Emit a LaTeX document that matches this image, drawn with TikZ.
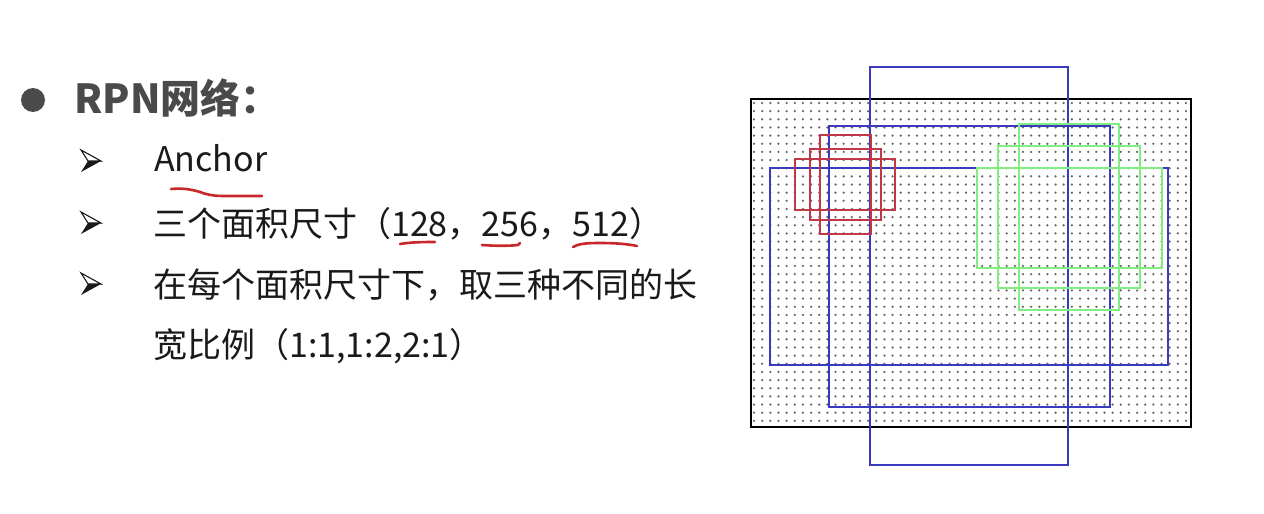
\documentclass[tikz,border=0pt]{standalone}
\usepackage{fontspec}
\setmainfont{Noto Sans CJK SC}
\definecolor{txt}{HTML}{1A1A1A}
\definecolor{ttl}{HTML}{4A4A4A}
\definecolor{bx}{HTML}{3A3AC0}
\definecolor{rx}{HTML}{C03848}
\definecolor{gx}{HTML}{80EE80}
\definecolor{pen}{HTML}{C8282C}
\definecolor{dotc}{HTML}{666666}
\tikzset{
  item/.style={anchor=base west, inner sep=0pt, text=txt, font=\fontsize{34}{34}\selectfont},
  bluebox/.style={draw=bx, line width=1.6pt},
  redbox/.style={draw=rx, line width=1.6pt},
  greenbox/.style={draw=gx, line width=1.6pt},
  penline/.style={draw=pen, line width=2.6pt, line cap=round, line join=round},
  pics/arrowbullet/.style={code={
    \draw[txt, line width=1.1pt, line join=miter, fill=white] (-10,-11) -- (10,0) -- (-3,0) -- cycle;
    \fill[txt] (-10,11) -- (10,0) -- (-3,0) -- cycle;
  }},
}
\begin{document}
\begin{tikzpicture}[x=1pt,y=-1pt]
\useasboundingbox[fill=white] (0,0) rectangle (1264,514);
% title
\fill[ttl] (33,100) circle (12);
\node[anchor=base west, inner sep=0pt, text=ttl, font=\bfseries\fontsize{40}{40}\selectfont] (title) at (74,113) {RPN网络：};
% items
\pic (b1) at (91,161) {arrowbullet};
\pic (b2) at (91,223) {arrowbullet};
\pic (b3) at (91,284) {arrowbullet};
\node[item] (t1) at (154,171) {Anchor};
\node[item] (t2) at (153,236) {三个面积尺寸（128，256，512）};
\node[item] (t3) at (153,297) {在每个面积尺寸下，取三种不同的长};
\node[item] (t4) at (153,357) {宽比例（1:1,1:2,2:1）};
% red pen marks
\draw[penline] (171,189) .. controls (182,188) and (190,189) .. (200,192) .. controls (208,195) and (214,196) .. (225,196) -- (262,196);
\draw[penline] (400,244) .. controls (412,242) and (425,242) .. (435,242);
\draw[penline] (482,245) .. controls (495,246) and (510,246) .. (518,245) -- (520,243);
\draw[penline] (573,247) .. controls (578,244) and (585,243) .. (600,243) .. controls (615,243) and (628,244) .. (637,246);
% dot grid
\foreach \i in {0,...,53}{
  \foreach \j in {0,...,39}{
    \fill[dotc] (754+\i*8.15,103+\j*8.15) circle (1.25);
  }
}
% feature map border
\draw[black, line width=2.2pt] (751,99) rectangle (1191,427);
% blue anchors
\draw[bluebox] (870,67) rectangle (1068,465);
\draw[bluebox] (829,126) rectangle (1110,407);
\draw[bluebox] (770,168) rectangle (1168,365);
% red anchors
\draw[redbox] (820,135) rectangle (871,234);
\draw[redbox] (810,149) rectangle (881,220);
\draw[redbox] (795,159) rectangle (895,210);
% green anchors
\draw[greenbox] (1019,124) rectangle (1119,310);
\draw[greenbox] (998,146) rectangle (1140,288);
\draw[greenbox] (977,168) rectangle (1162,268);
\end{tikzpicture}
\end{document}
